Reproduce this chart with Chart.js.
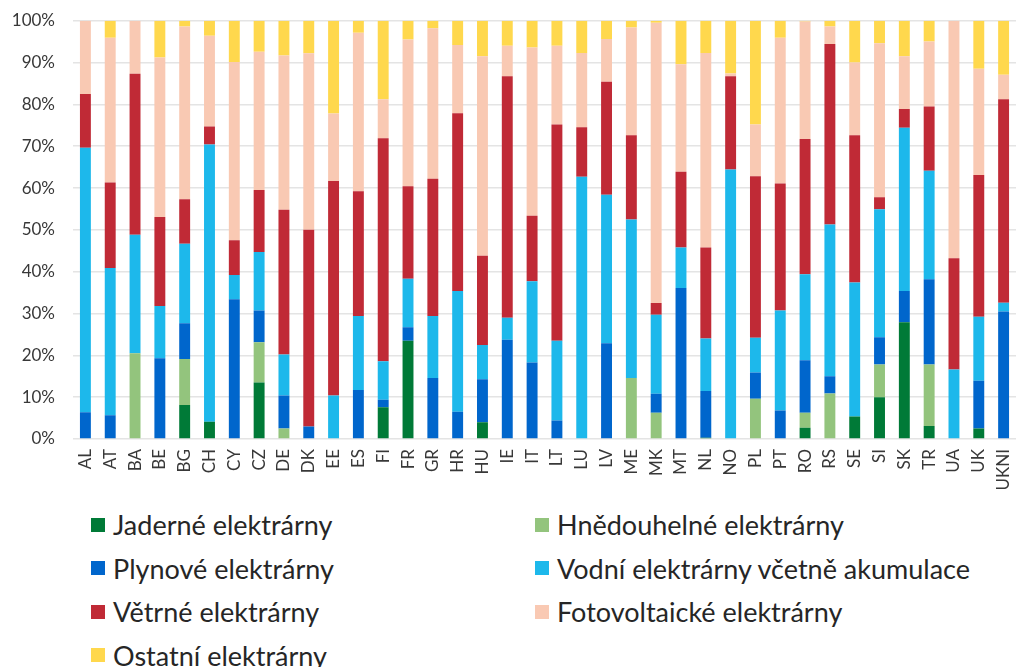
<!DOCTYPE html>
<html lang="cs">
<head>
<meta charset="utf-8">
<title>Struktura výroby elektřiny</title>
<script src="https://cdn.jsdelivr.net/npm/chart.js@4/dist/chart.umd.min.js"></script>
<style>
  html, body { margin: 0; padding: 0; background: #ffffff; }
  #wrap { position: relative; width: 1034px; height: 667px; overflow: hidden; }
  #chart { position: absolute; left: 0; top: 0; }
  #legend {
    position: absolute; left: 91px; top: 503px;
    display: grid; grid-template-columns: 444px auto; grid-auto-rows: 43.5px;
    font-family: Lato, "Open Sans", sans-serif; font-size: 27px; color: #262626;
  }
  #legend .item { display: flex; align-items: center; white-space: nowrap; }
  #legend .box { width: 14px; height: 14px; margin-right: 8px; flex: none; }
</style>
</head>
<body>
<div id="wrap">
  <canvas id="chart" width="1034" height="500"></canvas>
  <div id="legend"></div>
</div>
<script>
// Countries (ENTSO-E codes)
const categories = ['AL','AT','BA','BE','BG','CH','CY','CZ','DE','DK','EE','ES','FI','FR','GR','HR','HU','IE','IT','LT',
                    'LU','LV','ME','MK','MT','NL','NO','PL','PT','RO','RS','SE','SI','SK','TR','UA','UK','UKNI'];

// Share of each source in percent, one value per country
const jaderne      = [0,0,0,0,8.1,4.1,0,13.5,0,0,0,0,7.6,23.5,0,0,4.0,0,0,0,0,0,0,0,0,0.3,0,0,0,2.7,0,5.4,10.0,27.9,3.1,0,2.5,0];
const hnedouhelne  = [0,0,20.5,0,11.0,0,0,9.6,2.5,0,0,0,0,0,0,0,0,0,0,0,0,0,14.6,6.3,0,0,0,9.6,0,3.6,10.9,0,7.8,0,14.7,0,0,0];
const plynove      = [6.4,5.7,0,19.3,8.6,0,33.4,7.6,7.9,3.0,0,11.7,1.8,3.2,14.6,6.5,10.3,23.7,18.3,4.4,0,22.9,0,4.5,36.1,11.2,0,6.3,6.8,12.5,4.1,0,6.5,7.5,20.4,0,11.4,30.5];
const vodni        = [63.2,35.2,28.3,12.5,19.0,66.3,5.8,14.0,9.8,0,10.4,17.7,9.2,11.6,14.8,28.9,8.2,5.3,19.4,19.1,62.7,35.5,37.9,18.9,9.7,12.5,64.4,8.3,23.9,20.6,36.3,32.0,30.6,39.0,25.9,16.6,15.3,2.1];
const vetrne       = [12.9,20.4,38.5,21.3,10.6,4.3,8.3,14.8,34.6,47.0,51.3,29.8,53.3,22.1,32.8,42.5,21.3,57.7,15.7,51.7,11.8,27.0,20.1,2.8,18.1,21.8,22.3,38.6,30.4,32.3,43.1,35.2,2.9,4.5,15.4,26.6,33.9,48.6];
const fotovoltaicke= [17.5,34.6,12.7,38.1,41.3,21.7,42.6,33.1,36.9,42.2,16.1,37.9,9.3,35.1,36.0,16.3,47.7,7.3,40.2,18.8,17.8,10.2,25.8,67.0,25.7,46.5,0.7,12.4,34.8,28.1,4.2,17.4,36.8,12.6,15.5,56.8,25.4,5.9];
const ostatni      = [0,4.1,0,8.8,1.4,3.6,9.9,7.4,8.3,7.8,22.2,2.9,18.8,4.5,1.8,5.8,8.5,6.0,6.4,6.0,7.7,4.4,1.6,0.5,10.4,7.7,12.6,24.8,4.1,0.2,1.4,10.0,5.4,8.5,5.0,0,11.5,12.9];

// Y axis ticks
const yTicks = [0,10,20,30,40,50,60,70,80,90,100];

const series = [
  { label: 'Jaderné elektrárny',                data: jaderne,       color: '#007A37' },
  { label: 'Hnědouhelné elektrárny',            data: hnedouhelne,   color: '#93C47D' },
  { label: 'Plynové elektrárny',                data: plynove,       color: '#0066CC' },
  { label: 'Vodní elektrárny včetně akumulace', data: vodni,         color: '#1DB8EB' },
  { label: 'Větrné elektrárny',                 data: vetrne,        color: '#C02A36' },
  { label: 'Fotovoltaické elektrárny',          data: fotovoltaicke, color: '#F9C9B3' },
  { label: 'Ostatní elektrárny',                data: ostatni,       color: '#FFD84D' }
];

const tickFont = { family: 'Lato, "Open Sans", sans-serif', size: 17 };

const chart = new Chart(document.getElementById('chart'), {
  type: 'bar',
  data: {
    labels: categories,
    datasets: series.map(s => ({
      label: s.label,
      data: s.data,
      backgroundColor: s.color,
      borderWidth: 0,
      barPercentage: 0.44,
      categoryPercentage: 1.0
    }))
  },
  options: {
    responsive: false,
    animation: false,
    layout: { padding: { top: 20.7, right: 0, left: 0, bottom: 0 } },
    plugins: { legend: { display: false }, tooltip: { enabled: false } },
    scales: {
      x: {
        stacked: true,
        grid: { display: false, drawTicks: false },
        border: { display: false },
        ticks: { font: tickFont, color: '#383838', maxRotation: 90, minRotation: 90, padding: 10, autoSkip: false },
        afterFit: s => { s.height = 61; }
      },
      y: {
        stacked: true,
        min: 0, max: 100,
        afterBuildTicks: s => { s.ticks = yTicks.map(v => ({ value: v })); },
        // invisible tick marks keep the labels clear of the plot without extra top padding
        grid: { color: '#E4E4E4', lineWidth: 1.5, drawTicks: true, tickLength: 18, tickColor: 'rgba(0,0,0,0)' },
        border: { display: false },
        ticks: { font: tickFont, color: '#383838', padding: 0, callback: v => v + '%' },
        afterFit: s => { s.width = 73; }
      }
    }
  }
});

// Two-column legend built from the chart's datasets
const legendEl = document.getElementById('legend');
chart.data.datasets.forEach(ds => {
  const item = document.createElement('div');
  item.className = 'item';
  const box = document.createElement('span');
  box.className = 'box';
  box.style.background = ds.backgroundColor;
  const txt = document.createElement('span');
  txt.textContent = ds.label;
  item.appendChild(box);
  item.appendChild(txt);
  legendEl.appendChild(item);
});
</script>
</body>
</html>
